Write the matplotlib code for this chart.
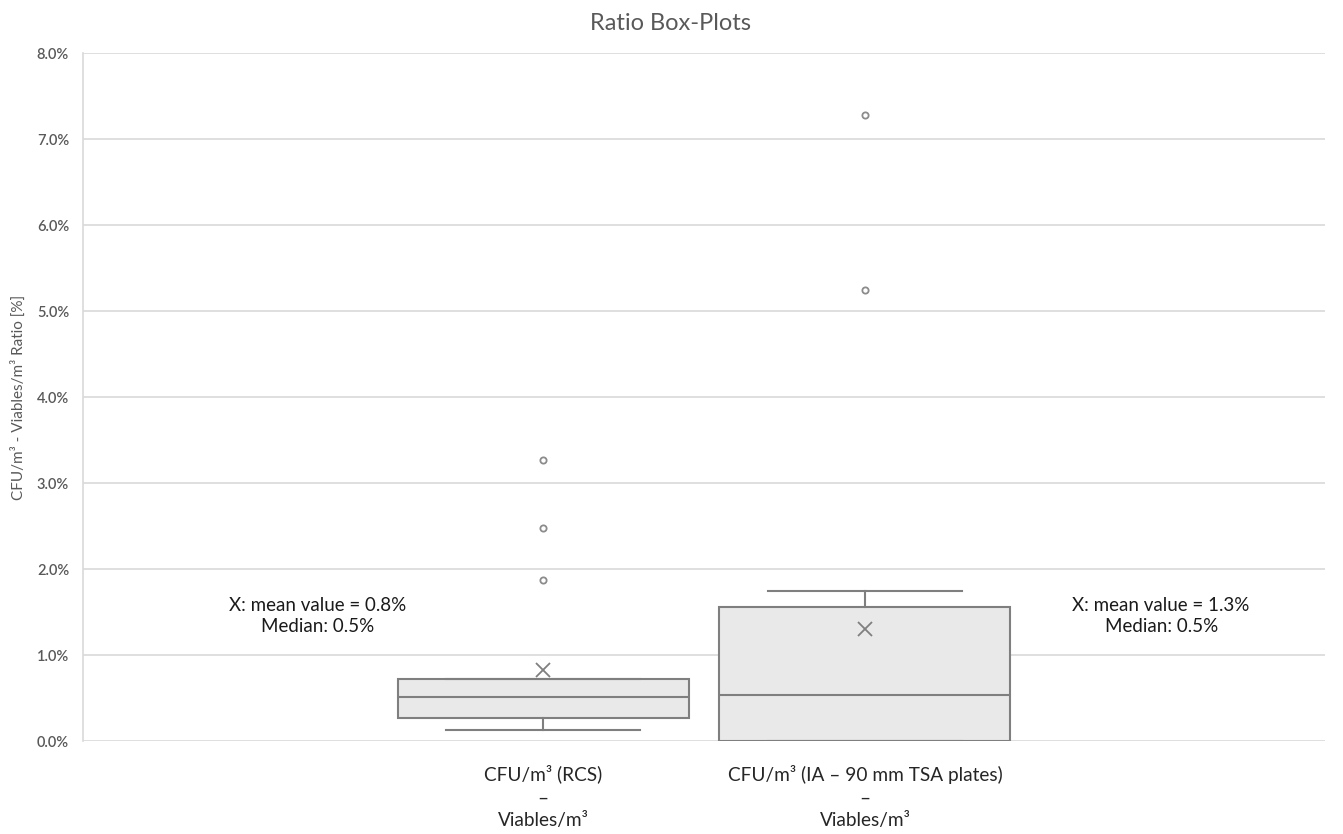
import matplotlib
matplotlib.use("Agg")
import matplotlib.pyplot as plt

plt.rcParams['font.family'] = ['Lato', 'DejaVu Sans']

# Box statistics (values in %)
labels = ["CFU/m³ (RCS)\n–\nViables/m³", "CFU/m³ (IA – 90 mm TSA plates)\n–\nViables/m³"]
whisker_low = [0.13, 0.0]
q1 = [0.27, 0.0]
medians = [0.51, 0.54]
q3 = [0.72, 1.56]
whisker_high = [0.72, 1.75]
means = [0.82, 1.30]
outliers = [[1.87, 2.48, 3.27], [5.24, 7.28]]
notes = ["X: mean value = 0.8%\nMedian: 0.5%", "X: mean value = 1.3%\nMedian: 0.5%"]

yticks = [0.0, 1.0, 2.0, 3.0, 4.0, 5.0, 6.0, 7.0, 8.0]

stats = []
for i in range(len(labels)):
    stats.append(dict(label=labels[i], whislo=whisker_low[i], q1=q1[i], med=medians[i],
                      q3=q3[i], whishi=whisker_high[i], mean=means[i], fliers=outliers[i]))

fig = plt.figure(figsize=(13.43, 8.34), dpi=100)
ax = fig.add_axes([0.0618, 0.1115, 0.9248, 0.8249])

edge = '#7f7f7f'
ax.bxp(stats, positions=[1, 2], widths=0.904, patch_artist=True, showmeans=True,
       boxprops=dict(facecolor='#e9e9e9', edgecolor=edge, linewidth=1.5),
       medianprops=dict(color=edge, linewidth=1.5),
       whiskerprops=dict(color=edge, linewidth=1.5),
       capprops=dict(color=edge, linewidth=1.5),
       capwidths=0.6,
       meanprops=dict(marker='x', markeredgecolor=edge, markersize=10, markeredgewidth=1.3),
       flierprops=dict(marker='o', markerfacecolor='white', markeredgecolor='#8c8c8c',
                       markersize=4.5, markeredgewidth=1.3))

ax.set_xlim(1.5 - 1.929, 1.5 + 1.929)
ax.set_ylim(0, 8.0)
ax.set_yticks(yticks)
ax.set_yticklabels([f"{v:.1f}%" for v in yticks], color='#595959', fontsize=10.5,
                   fontweight='semibold')
ax.tick_params(axis='both', length=0, pad=10)
ax.tick_params(axis='x', labelsize=13.7, labelcolor='#262626', pad=17)
ax.grid(axis='y', color='#d9d9d9', linewidth=1.2)
ax.set_axisbelow(True)
for s in ['top', 'right', 'bottom']:
    ax.spines[s].set_visible(False)
ax.spines['left'].set_color('#d9d9d9')
ax.spines['left'].set_linewidth(1.2)

for lbl in ax.get_xticklabels():
    lbl.set_linespacing(1.42)

ax.set_ylabel("CFU/m³ - Viables/m³ Ratio [%]", fontsize=11, color='#595959', labelpad=8)
fig.text(670 / 1343, 1 - 24 / 834, "Ratio Box-Plots", ha='center', va='center',
         fontsize=17, color='#595959')

ax.text(0.30, 1.45, notes[0], ha='center', va='center', fontsize=13.5, color='#1a1a1a',
        linespacing=1.3)
ax.text(2.92, 1.45, notes[1], ha='center', va='center', fontsize=13.5, color='#1a1a1a',
        linespacing=1.3)

fig.savefig("out.png", dpi=100)
